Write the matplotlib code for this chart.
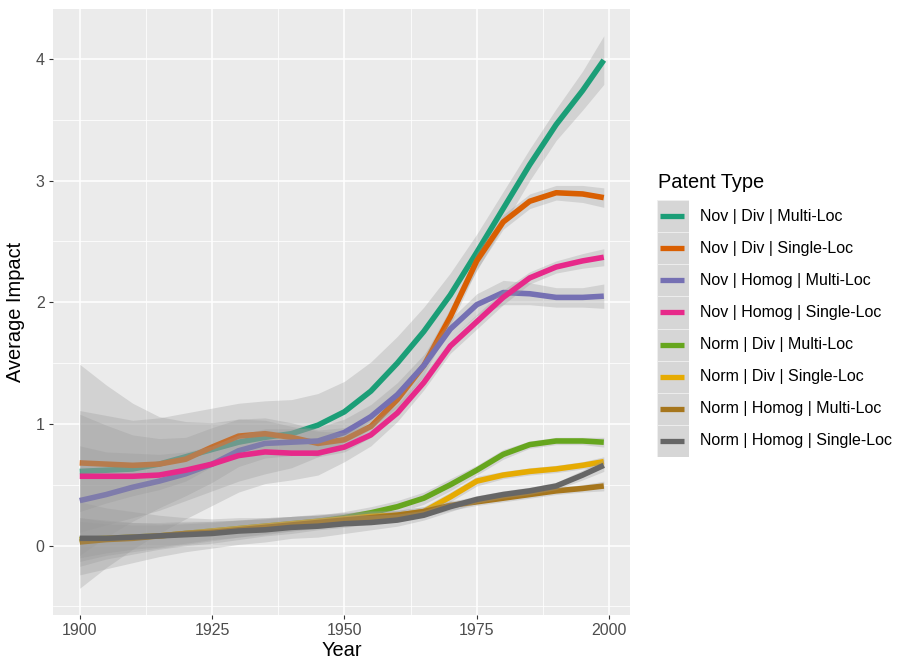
import numpy as np
import matplotlib.pyplot as plt
from matplotlib.patches import Rectangle
from matplotlib.lines import Line2D

plt.rcParams['font.family'] = ['Liberation Sans', 'DejaVu Sans']

years = [1900, 1905, 1910, 1915, 1920, 1925, 1930, 1935, 1940, 1945, 1950,
         1955, 1960, 1965, 1970, 1975, 1980, 1985, 1990, 1995, 1999]

labels = ['Nov | Div | Multi-Loc', 'Nov | Div | Single-Loc',
          'Nov | Homog | Multi-Loc', 'Nov | Homog | Single-Loc',
          'Norm | Div | Multi-Loc', 'Norm | Div | Single-Loc',
          'Norm | Homog | Multi-Loc', 'Norm | Homog | Single-Loc']
colors = ['#1B9E77', '#D95F02', '#7570B3', '#E7298A',
          '#66A61E', '#E6AB02', '#A6761D', '#666666']

# smoothed averages
nov_div_multi = [0.61, 0.62, 0.63, 0.67, 0.73, 0.79, 0.85, 0.89, 0.92, 0.99, 1.10,
                 1.27, 1.50, 1.76, 2.06, 2.41, 2.77, 3.13, 3.46, 3.74, 3.99]
nov_div_single = [0.68, 0.67, 0.66, 0.67, 0.71, 0.81, 0.90, 0.92, 0.89, 0.84, 0.87,
                  0.98, 1.20, 1.48, 1.88, 2.34, 2.66, 2.83, 2.90, 2.89, 2.86]
nov_homog_multi = [0.37, 0.42, 0.48, 0.53, 0.59, 0.67, 0.78, 0.84, 0.85, 0.86, 0.93,
                   1.06, 1.24, 1.48, 1.78, 1.98, 2.08, 2.07, 2.04, 2.04, 2.05]
nov_homog_single = [0.57, 0.57, 0.57, 0.58, 0.62, 0.67, 0.74, 0.77, 0.76, 0.76, 0.81,
                    0.91, 1.09, 1.34, 1.64, 1.84, 2.04, 2.20, 2.29, 2.34, 2.37]
norm_div_multi = [0.05, 0.06, 0.07, 0.08, 0.10, 0.12, 0.14, 0.16, 0.18, 0.20, 0.23,
                  0.27, 0.32, 0.39, 0.50, 0.62, 0.75, 0.83, 0.86, 0.86, 0.85]
norm_div_single = [0.05, 0.06, 0.07, 0.08, 0.10, 0.12, 0.14, 0.16, 0.18, 0.20, 0.22,
                   0.24, 0.25, 0.28, 0.40, 0.53, 0.58, 0.61, 0.63, 0.66, 0.69]
norm_homog_multi = [0.03, 0.05, 0.06, 0.08, 0.10, 0.11, 0.13, 0.15, 0.17, 0.19, 0.21,
                    0.23, 0.25, 0.28, 0.33, 0.36, 0.39, 0.42, 0.45, 0.47, 0.49]
norm_homog_single = [0.06, 0.06, 0.07, 0.08, 0.09, 0.10, 0.12, 0.13, 0.15, 0.16, 0.18,
                     0.19, 0.21, 0.25, 0.32, 0.38, 0.42, 0.45, 0.49, 0.58, 0.66]

# half widths of the confidence bands
hw_nov_div_multi = [0.50, 0.45, 0.40, 0.38, 0.36, 0.34, 0.32, 0.30, 0.28, 0.26, 0.25,
                    0.24, 0.22, 0.20, 0.18, 0.15, 0.14, 0.13, 0.13, 0.16, 0.20]
hw_nov_div_single = [0.40, 0.32, 0.25, 0.21, 0.18, 0.16, 0.14, 0.13, 0.12, 0.11, 0.10,
                     0.09, 0.08, 0.08, 0.07, 0.07, 0.06, 0.06, 0.06, 0.07, 0.08]
hw_nov_homog_multi = [0.45, 0.35, 0.28, 0.22, 0.18, 0.15, 0.13, 0.12, 0.11, 0.11, 0.11,
                      0.10, 0.10, 0.09, 0.08, 0.09, 0.10, 0.09, 0.08, 0.08, 0.10]
hw_nov_homog_single = [0.92, 0.75, 0.60, 0.48, 0.40, 0.34, 0.30, 0.26, 0.22, 0.18, 0.12,
                       0.09, 0.07, 0.06, 0.06, 0.06, 0.06, 0.05, 0.05, 0.06, 0.07]
hw_norm_div_multi = [0.15, 0.12, 0.10, 0.09, 0.08, 0.07, 0.07, 0.06, 0.06, 0.05, 0.05,
                     0.05, 0.05, 0.05, 0.05, 0.04, 0.04, 0.03, 0.03, 0.03, 0.04]
hw_norm_div_single = [0.18, 0.14, 0.12, 0.10, 0.09, 0.08, 0.07, 0.07, 0.06, 0.06, 0.05,
                      0.05, 0.04, 0.04, 0.04, 0.04, 0.03, 0.03, 0.03, 0.03, 0.04]
hw_norm_homog_multi = [0.20, 0.16, 0.13, 0.11, 0.10, 0.09, 0.08, 0.07, 0.07, 0.06, 0.06,
                       0.05, 0.04, 0.04, 0.04, 0.03, 0.03, 0.03, 0.03, 0.03, 0.04]
hw_norm_homog_single = [0.30, 0.25, 0.21, 0.17, 0.14, 0.12, 0.11, 0.10, 0.09, 0.09, 0.08,
                        0.06, 0.05, 0.04, 0.04, 0.03, 0.03, 0.03, 0.03, 0.04, 0.05]

series = [nov_div_multi, nov_div_single, nov_homog_multi, nov_homog_single,
          norm_div_multi, norm_div_single, norm_homog_multi, norm_homog_single]
bands = [hw_nov_div_multi, hw_nov_div_single, hw_nov_homog_multi, hw_nov_homog_single,
         hw_norm_div_multi, hw_norm_div_single, hw_norm_homog_multi, hw_norm_homog_single]

fig = plt.figure(figsize=(9.07, 6.70), dpi=100)
ax = fig.add_axes([53 / 907, 55 / 670, 577 / 907, 606 / 670])
ax.set_facecolor('#EBEBEB')
for s in ax.spines.values():
    s.set_visible(False)

# ggplot draws ribbon + line per group
x = np.array(years)
for vals, hw, c in zip(series, bands, colors):
    v = np.array(vals)
    h = np.array(hw)
    ax.fill_between(x, v - h, v + h, color='#999999', alpha=0.3, lw=0, zorder=2)
    ax.plot(x, v, color=c, lw=4.0, solid_capstyle='butt', zorder=2)

ax.set_xlim(1894.95, 2003.95)
ax.set_ylim(-0.57, 4.41)
ax.set_xticks([1900, 1925, 1950, 1975, 2000])
ax.set_yticks([0, 1, 2, 3, 4])
ax.set_xticks([1912.5, 1937.5, 1962.5, 1987.5], minor=True)
ax.set_yticks([-0.5, 0.5, 1.5, 2.5, 3.5], minor=True)
ax.grid(which='major', color='white', lw=1.1, zorder=0)
ax.grid(which='minor', color='white', lw=0.55, zorder=0)
ax.set_axisbelow(True)
ax.tick_params(which='major', length=3, width=0.8, color='#333333',
               labelsize=11.5, labelcolor='#4D4D4D', pad=3)
ax.tick_params(which='minor', length=0)
ax.set_xlabel('Year', fontsize=14.4, labelpad=2)
ax.set_ylabel('Average Impact', fontsize=14.4, labelpad=8)

# legend
fig.text(658 / 907, (670 - 183) / 670, 'Patent Type', fontsize=14.4,
         va='center', ha='left')
lax = fig.add_axes([657 / 907, (670 - 457) / 670, 32 / 907, 257 / 670])
lax.set_xlim(0, 1)
lax.set_ylim(0, len(labels))
lax.axis('off')
for i, (lab, c) in enumerate(zip(labels, colors)):
    yc = len(labels) - i - 0.5
    lax.add_patch(Rectangle((0, yc - 0.5), 1, 1, facecolor='#D6D6D6',
                            edgecolor='#EFEFEF', lw=0.6))
    lax.add_line(Line2D([0.1, 0.85], [yc, yc], color=c, lw=3.8,
                        solid_capstyle='butt'))
    fig.text(700 / 907, (670 - (200 + 32.1 * (i + 0.5))) / 670, lab,
             fontsize=11.5, va='center', ha='left')

fig.savefig('out.png', dpi=100)
